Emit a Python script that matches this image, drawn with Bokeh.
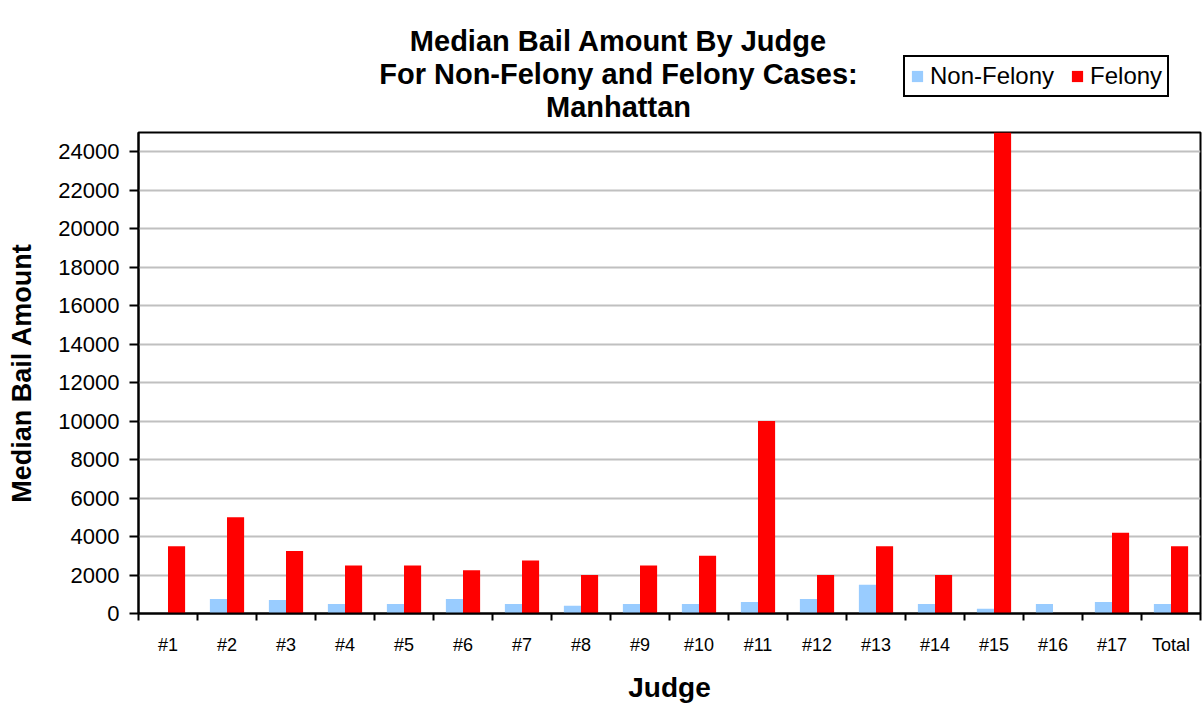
from bokeh.plotting import figure
from bokeh.layouts import column
from bokeh.models import (ColumnDataSource, FixedTicker, Legend, LegendItem, Label, Range1d)
from bokeh.transform import dodge
from bokeh.embed import file_html
from bokeh.resources import INLINE

judges = ["#1", "#2", "#3", "#4", "#5", "#6", "#7", "#8", "#9", "#10",
          "#11", "#12", "#13", "#14", "#15", "#16", "#17", "Total"]
non_felony = [0, 750, 700, 500, 500, 750, 500, 400, 500, 500,
              600, 750, 1500, 500, 250, 500, 600, 500]
felony = [3500, 5000, 3250, 2500, 2500, 2250, 2750, 2000, 2500, 3000,
          10000, 2000, 3500, 2000, 25000, 0, 4200, 3500]
y_ticks = list(range(0, 24001, 2000))
y_max = 25000
series_names = ["Non-Felony", "Felony"]
series_colors = ["#99CCFF", "#FF0000"]
title_lines = ["Median Bail Amount By Judge",
               "For Non-Felony and Felony Cases:",
               "Manhattan"]

FONT = "Liberation Sans"
n = len(judges)
pos = [i + 0.5 for i in range(n)]
src = ColumnDataSource(dict(pos=pos, nf=non_felony, fel=felony, name=judges))

BL, BR = 138, 3          # left / right borders shared by both parts
W, H = 1203, 705
HEAD_H = 130

# ---------------- header (title + legend) ----------------
# header coordinates are page pixels (x from the page's left, y from the header's bottom)
head = figure(width=W, height=HEAD_H, output_backend="svg", toolbar_location=None,
              x_range=Range1d(BL, W - BR), y_range=Range1d(0, HEAD_H),
              x_axis_type=None, y_axis_type=None,
              min_border_left=BL, min_border_right=BR, min_border_top=0,
              min_border_bottom=0)
head.outline_line_color = None
head.grid.visible = False
head.background_fill_color = "white"
head.border_fill_color = "white"

title_y = [HEAD_H - 40, HEAD_H - 73, HEAD_H - 106]
for txt, ty in zip(title_lines, title_y):
    head.add_layout(Label(x=618, y=ty, text=txt, text_align="center",
                          text_baseline="middle", text_font=FONT,
                          text_font_size="29px", text_font_style="bold",
                          text_color="black"))

# legend swatches: zero-size bars (invisible in the header) that carry the series colours
leg_rs = [head.vbar(x=[BL], top=[0], bottom=[0], width=0, fill_color=c, line_color=None)
          for c in series_colors]
legend = Legend(items=[LegendItem(label=nm, renderers=[r])
                       for nm, r in zip(series_names, leg_rs)],
                orientation="horizontal", location=(903 - BL, HEAD_H - 97))
legend.label_text_font = FONT
legend.label_text_font_size = "24px"
legend.label_text_color = "black"
legend.border_line_color = "black"
legend.border_line_alpha = 1
legend.border_line_width = 2
legend.background_fill_color = "white"
legend.background_fill_alpha = 1
legend.glyph_width = 14
legend.glyph_height = 14
legend.padding = 5
legend.spacing = 16
legend.label_standoff = 6
legend.margin = 0
head.add_layout(legend, "center")

# ---------------- main chart ----------------
p = figure(width=W, height=H - HEAD_H, output_backend="svg", toolbar_location=None,
           x_range=Range1d(0, n), y_range=Range1d(0, y_max),
           min_border_left=BL, min_border_right=BR, min_border_top=2,
           min_border_bottom=91)
p.background_fill_color = "white"
p.border_fill_color = "white"
p.outline_line_color = "black"
p.outline_line_alpha = 1
p.outline_line_width = 2

bw = 0.29
p.vbar(x=dodge("pos", -bw / 2), top="nf", width=bw, source=src,
       fill_color=series_colors[0], line_color=None)
p.vbar(x=dodge("pos", bw / 2), top="fel", width=bw, source=src,
       fill_color=series_colors[1], line_color=None)

# grid
p.xgrid.visible = False
p.ygrid.grid_line_color = "#C0C0C0"
p.ygrid.grid_line_width = 2
p.ygrid.ticker = FixedTicker(ticks=y_ticks)

# y axis
ya = p.yaxis[0]
ya.ticker = FixedTicker(ticks=y_ticks, minor_ticks=[])
ya.axis_line_color = "black"
ya.axis_line_width = 2
ya.major_tick_line_color = "black"
ya.major_tick_line_width = 2
ya.major_tick_out = 9
ya.major_tick_in = 0
ya.minor_tick_out = 0
ya.major_label_text_font = FONT
ya.major_label_text_font_size = "22px"
ya.major_label_text_color = "black"
ya.major_label_standoff = 10
ya.axis_label = "Median Bail Amount"
ya.axis_label_text_font = FONT
ya.axis_label_text_font_size = "27px"
ya.axis_label_text_font_style = "bold"
ya.axis_label_text_color = "black"
ya.axis_label_standoff = 18

# x axis
xa = p.xaxis[0]
xa.ticker = FixedTicker(ticks=pos, minor_ticks=list(range(0, n + 1)))
xa.major_label_overrides = {pos[i]: judges[i] for i in range(n)}
xa.axis_line_color = "black"
xa.axis_line_width = 2
xa.major_tick_out = 0
xa.major_tick_in = 0
xa.minor_tick_out = 7
xa.minor_tick_in = 0
xa.minor_tick_line_color = "black"
xa.minor_tick_line_width = 2
xa.major_label_text_font = FONT
xa.major_label_text_font_size = "18px"
xa.major_label_text_color = "black"
xa.major_label_standoff = 14
xa.axis_label = "Judge"
xa.axis_label_text_font = FONT
xa.axis_label_text_font_size = "28px"
xa.axis_label_text_font_style = "bold"
xa.axis_label_text_color = "black"
xa.axis_label_standoff = 14

layout = column(head, p, spacing=0)
open("out.html", "w").write(file_html(layout, INLINE))
